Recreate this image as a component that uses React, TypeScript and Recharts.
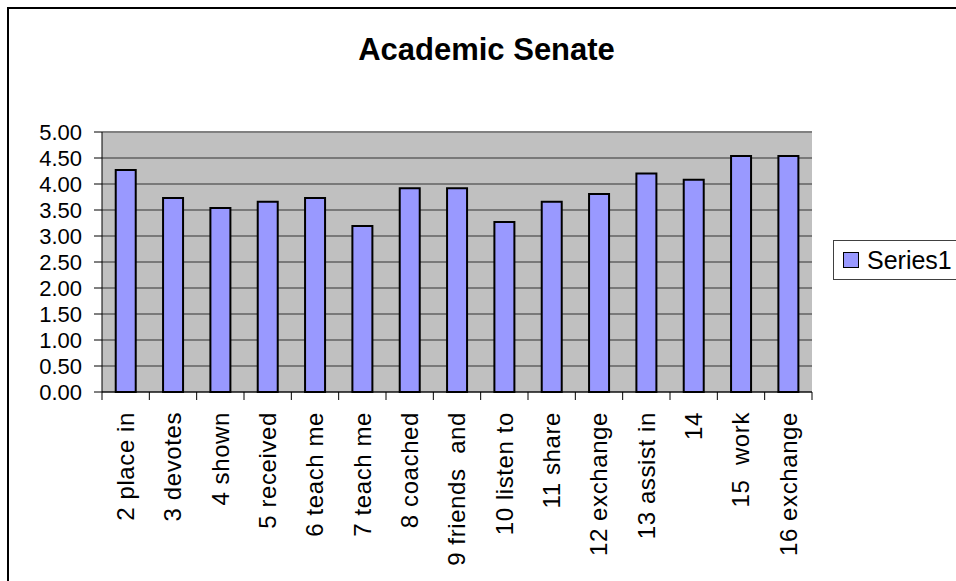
import React from "react";
import {
  BarChart,
  Bar,
  XAxis,
  YAxis,
  CartesianGrid,
  Legend,
  ReferenceLine,
} from "recharts";

const categories = [
  "2 place in",
  "3 devotes",
  "4 shown",
  "5 received",
  "6 teach me",
  "7 teach me",
  "8 coached",
  "9 friends  and",
  "10 listen to",
  "11 share",
  "12 exchange",
  "13 assist in",
  "14",
  "15  work",
  "16 exchange",
];

const series1 = [4.27, 3.73, 3.54, 3.66, 3.73, 3.19, 3.92, 3.92, 3.27, 3.66, 3.81, 4.2, 4.08, 4.54, 4.54];

const yTicks = [0, 0.5, 1, 1.5, 2, 2.5, 3, 3.5, 4, 4.5, 5];

const data = categories.map((name, i) => ({ name, Series1: series1[i] }));

const FONT = '"Liberation Sans", Arial, sans-serif';
const TICK_SIZE = 8;
const TICK_MARGIN = 12;

const XTick = (props: any) => {
  const { x, y, payload, index, visibleTicksCount } = props;
  const half = payload && typeof payload.offset === "number" ? payload.offset : 0;
  const axisY = y - TICK_SIZE - TICK_MARGIN;
  const isLast = index === visibleTicksCount - 1;
  return (
    <g>
      <line x1={x - half} x2={x - half} y1={axisY} y2={axisY + TICK_SIZE} stroke="#000" strokeWidth={1} />
      {isLast && (
        <line x1={x + half} x2={x + half} y1={axisY} y2={axisY + TICK_SIZE} stroke="#000" strokeWidth={1} />
      )}
      <text
        x={x}
        y={y}
        dy="0.35em"
        transform={`rotate(-90, ${x}, ${y})`}
        textAnchor="end"
        fontFamily={FONT}
        fontSize={24}
        letterSpacing={0.6}
        fill="#000"
        style={{ whiteSpace: "pre" }}
      >
        {payload.value}
      </text>
    </g>
  );
};

const LegendBox = (props: any) => {
  const items = props.payload || [];
  return (
    <div
      style={{
        border: "1px solid #404040",
        width: 140,
        height: 40,
        boxSizing: "border-box",
        display: "flex",
        alignItems: "center",
        paddingLeft: 9,
        background: "#fff",
      }}
    >
      {items.map((it: any) => (
        <div key={it.value} style={{ display: "flex", alignItems: "center" }}>
          <span
            style={{
              display: "inline-block",
              width: 14,
              height: 14,
              background: "#9999FF",
              border: "1.5px solid #000",
              marginRight: 8,
            }}
          />
          <span style={{ fontFamily: FONT, fontSize: 25, color: "#000", lineHeight: "30px" }}>
            {it.value}
          </span>
        </div>
      ))}
    </div>
  );
};

export default function App() {
  return (
    <div
      style={{
        position: "absolute",
        left: 0,
        top: 0,
        width: 956,
        height: 581,
        overflow: "hidden",
        background: "#fff",
      }}
    >
      <div
        style={{
          position: "absolute",
          left: 7,
          top: 7,
          width: 1100,
          height: 700,
          border: "2px solid #000",
          boxSizing: "border-box",
        }}
      />
      <div
        style={{
          position: "absolute",
          left: 0,
          top: 34,
          width: 973,
          textAlign: "center",
          fontFamily: FONT,
          fontWeight: "bold",
          fontSize: 31,
          lineHeight: "31px",
          color: "#000",
          whiteSpace: "nowrap",
        }}
      >
        Academic Senate
      </div>
      <div style={{ position: "absolute", left: 0, top: 0 }}>
        <BarChart
          width={956}
          height={581}
          data={data}
          margin={{ top: 132, right: 144, bottom: 9, left: 42 }}
          barCategoryGap="29%"
        >
          <CartesianGrid
            vertical={false}
            fill="#C0C0C0"
            fillOpacity={1}
            stroke="#333333"
            strokeWidth={1}
          />
          <XAxis
            dataKey="name"
            interval={0}
            height={180}
            tickLine={false}
            tickSize={TICK_SIZE}
            tickMargin={TICK_MARGIN}
            axisLine={{ stroke: "#000", strokeWidth: 1 }}
            tick={<XTick />}
          />
          <YAxis
            domain={[0, 5]}
            ticks={yTicks}
            width={60}
            interval={0}
            tickFormatter={(v: number) => v.toFixed(2)}
            tick={{ fontFamily: FONT, fontSize: 22, fill: "#000" }}
            tickSize={8}
            tickMargin={12}
            tickLine={{ stroke: "#000" }}
            axisLine={{ stroke: "#000", strokeWidth: 1 }}
          />
          <YAxis
            yAxisId="frame"
            orientation="right"
            domain={[0, 5]}
            width={0}
            tick={false}
            tickLine={false}
            axisLine={{ stroke: "#808080", strokeWidth: 2 }}
          />
          <ReferenceLine y={5} stroke="#808080" strokeWidth={2} />
          <Bar
            dataKey="Series1"
            name="Series1"
            fill="#9999FF"
            stroke="#000"
            strokeWidth={2}
            isAnimationActive={false}
          />
          <Legend
            layout="horizontal"
            align="center"
            verticalAlign="middle"
            content={<LegendBox />}
            wrapperStyle={{ left: 833, top: 240, width: 140, height: 42 }}
          />
        </BarChart>
      </div>
    </div>
  );
}
